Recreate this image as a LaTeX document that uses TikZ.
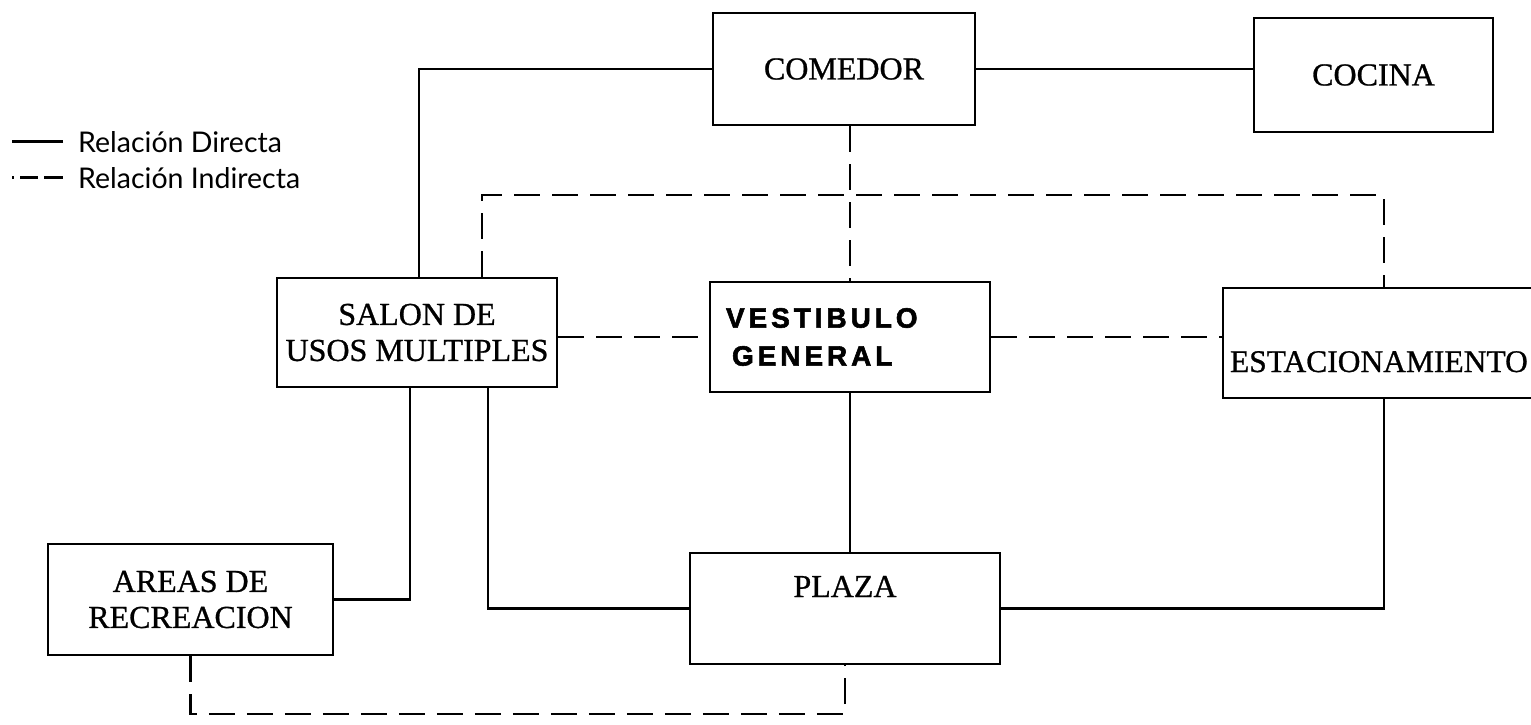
\documentclass[tikz,border=0pt]{standalone}
\usepackage{fontspec}
\setmainfont{Liberation Serif}[FakeBold=0.8]
\newfontfamily\legendfont{Lato}
\newfontfamily\vestfont[LetterSpace=14,FakeBold=2]{Liberation Sans}
\begin{document}
\begin{tikzpicture}[x=1pt,y=-1pt,
  box/.style={draw, line width=2.6pt, rectangle, inner sep=0pt, align=center,
              font=\fontsize{32}{36}\selectfont},
  direct/.style={line width=2.2pt},
  indirect/.style={line width=2.2pt, dash pattern=on 26pt off 12pt},
  legendtext/.style={anchor=base west, inner sep=0pt, font=\legendfont\fontsize{28.5}{32}\selectfont}]
\useasboundingbox (0,0) rectangle (1531,725);
\fill[white] (0,0) rectangle (1531,725);

% boxes
\node[box, minimum width=262pt, minimum height=112pt] (comedor) at (844,69) {COMEDOR};
\node[box, minimum width=239pt, minimum height=114pt] (cocina) at (1373.5,75) {COCINA};
\node[box, minimum width=280pt, minimum height=109pt] (salon) at (417,332.5) {SALON DE\\USOS MULTIPLES};
\node[box, minimum width=280pt, minimum height=110pt, text width=248pt, align=left,
      font=\vestfont\bfseries\fontsize{28}{38}\selectfont] (vest) at (850,337) {VESTIBULO\\\hspace*{6pt}GENERAL};
\node[box, minimum width=322pt, minimum height=110pt, text height=58pt, text depth=0pt,
      text width=308pt, align=left, font=\fontsize{31.5}{36}\selectfont] (estac) at (1384,343) {ESTACIONAMIENTO};
\node[box, minimum width=285pt, minimum height=111pt] (areas) at (190.5,599.5) {AREAS DE\\RECREACION};
\node[box, minimum width=310pt, minimum height=111pt, text height=20pt, text depth=43pt] (plaza) at (845,608.5) {PLAZA};

% legend
\node[legendtext] (leg1) at (78,152) {Relación Directa};
\node[legendtext] (leg2) at (78,188) {Relación Indirecta};
\draw[direct, line width=2.6pt] (leg1.west) ++(-15,0) -- ++(-51,0);
\draw[line width=2.4pt, dash pattern=on 2pt off 6pt on 18pt off 6pt on 19pt off 20pt] (leg2.west) ++(-66,0) -- ++(51,0);

% direct relations
\draw[direct] (comedor.west) -| ([xshift=2pt]salon.north);
\draw[direct] (comedor.east) -- (comedor.east -| cocina.west);
\draw[direct] ([xshift=-7pt]salon.south) |- (areas.east);
\draw[direct] ([xshift=71pt]salon.south) |- (plaza.west);
\draw[direct] (vest.south) -- (vest.south |- plaza.north);
\draw[direct] (estac.south) |- (plaza.east);

% indirect relations
\coordinate (dtop) at (0,195);
\coordinate (dbot) at (0,714);
\draw[indirect] (comedor.south -| vest.north) -- (vest.north);
\draw[indirect] ([xshift=65pt]salon.north) |- (estac.north |- dtop) -- (estac.north);
\draw[indirect] (vest.west -| salon.east) -- (vest.west);
\draw[indirect] (vest.east) -- (vest.east -| estac.west);
\draw[indirect] (areas.south) |- (plaza.south |- dbot) -- (plaza.south);
\end{tikzpicture}
\end{document}
